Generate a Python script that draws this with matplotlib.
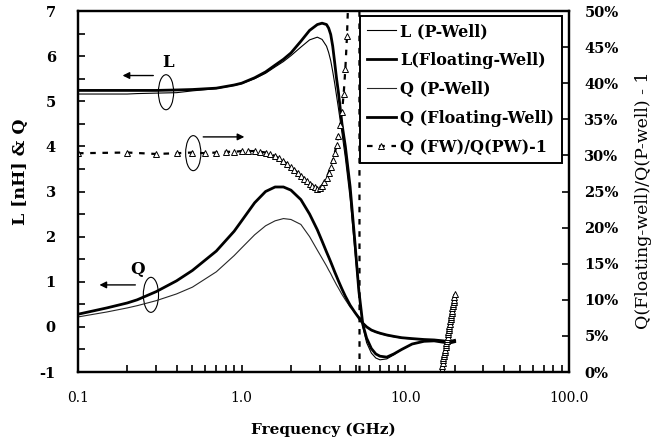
import matplotlib
matplotlib.use('Agg')
import matplotlib.pyplot as plt
from matplotlib.patches import Ellipse
from matplotlib.ticker import FixedLocator, FuncFormatter, PercentFormatter, MultipleLocator, LogLocator

plt.rcParams['font.family'] = ['DejaVu Serif']
plt.rcParams['axes.unicode_minus'] = False

# frequency grid (GHz) for the L and Q curves
curve_freq = [0.1, 0.15, 0.2, 0.23, 0.3, 0.4, 0.5, 0.7, 0.9, 1.0, 1.2, 1.4, 1.6, 1.8, 2.0,
              2.3, 2.6, 2.9, 3.1, 3.3, 3.4, 3.5, 3.6, 3.7, 3.8, 3.9, 4.1, 4.3, 4.6, 4.9, 5.2,
              5.5, 5.8, 6.2, 6.6, 7.0, 7.7, 8.5, 9.5, 11, 13, 15, 17, 18.5, 20]

L_pw = [5.16, 5.16, 5.16, 5.17, 5.18, 5.19, 5.23, 5.28, 5.35, 5.39, 5.50, 5.62, 5.76, 5.88, 6.01,
        6.20, 6.36, 6.42, 6.37, 6.22, 6.08, 5.90, 5.66, 5.40, 5.12, 4.85, 4.30, 3.75, 2.85, 1.75,
        0.75, 0.00, -0.35, -0.58, -0.69, -0.73, -0.71, -0.62, -0.50, -0.38, -0.32, -0.31, -0.34,
        -0.36, -0.33]
L_fw = [5.24, 5.24, 5.24, 5.24, 5.24, 5.25, 5.26, 5.29, 5.36, 5.40, 5.52, 5.65, 5.80, 5.93, 6.07,
        6.33, 6.57, 6.70, 6.73, 6.70, 6.62, 6.48, 6.22, 5.86, 5.50, 5.20, 4.50, 4.00, 3.10, 1.95,
        0.80, 0.05, -0.25, -0.48, -0.60, -0.65, -0.67, -0.60, -0.50, -0.38, -0.32, -0.31, -0.34,
        -0.36, -0.33]
Q_pw = [0.22, 0.33, 0.42, 0.47, 0.58, 0.73, 0.88, 1.22, 1.58, 1.75, 2.04, 2.24, 2.35, 2.40, 2.38,
        2.27, 2.00, 1.70, 1.52, 1.35, 1.26, 1.18, 1.09, 1.01, 0.93, 0.86, 0.72, 0.60, 0.44, 0.33,
        0.22, 0.10, 0.00, -0.08, -0.12, -0.15, -0.19, -0.22, -0.25, -0.27, -0.29, -0.30, -0.32,
        -0.34, -0.31]
Q_fw = [0.28, 0.42, 0.53, 0.60, 0.78, 1.02, 1.25, 1.68, 2.12, 2.35, 2.75, 3.00, 3.10, 3.10, 3.03,
        2.82, 2.50, 2.15, 1.90, 1.66, 1.55, 1.44, 1.33, 1.22, 1.12, 1.02, 0.84, 0.68, 0.48, 0.33,
        0.20, 0.08, 0.00, -0.07, -0.11, -0.14, -0.18, -0.21, -0.24, -0.26, -0.28, -0.29, -0.31,
        -0.33, -0.30]

# Q(FW)/Q(PW)-1 in percent, 0.1 GHz sweep (values out of range are clipped)
ratio_freq = [0.1, 0.2, 0.3, 0.4, 0.5, 0.6, 0.7, 0.8, 0.9,
              1.0, 1.1, 1.2, 1.3, 1.4, 1.5, 1.6, 1.7, 1.8, 1.9,
              2.0, 2.1, 2.2, 2.3, 2.4, 2.5, 2.6, 2.7, 2.8, 2.9,
              3.0, 3.1, 3.2, 3.3, 3.4, 3.5, 3.6, 3.7, 3.8, 3.9,
              4.0, 4.1, 4.2, 4.3, 4.4, 4.5, 5.2, 5.3,
              16.5, 16.6, 16.7, 16.8, 16.9, 17.0, 17.1, 17.2, 17.3, 17.4,
              17.5, 17.6, 17.7, 17.8, 17.9, 18.0, 18.1, 18.2, 18.3, 18.4,
              18.5, 18.6, 18.7, 18.8, 18.9, 19.0, 19.1, 19.2, 19.3, 19.4,
              19.5, 19.6, 19.7, 19.8, 19.9, 20.0]
ratio_pct = [30.3, 30.4, 30.2, 30.3, 30.4, 30.3, 30.4, 30.5, 30.5,
             30.6, 30.6, 30.6, 30.5, 30.4, 30.2, 29.9, 29.6, 29.2, 28.8,
             28.4, 28.0, 27.6, 27.2, 26.8, 26.4, 26.1, 25.8, 25.6, 25.4,
             25.5, 25.8, 26.3, 26.9, 27.6, 28.4, 29.3, 30.3, 31.4, 32.7,
             34.2, 36.0, 38.5, 42.0, 46.5, 53.0, 300.0, -300.0,
             -0.5, 0.0, 0.4, 0.8, 1.2, 1.6, 1.9, 2.2, 2.5, 2.8,
             3.1, 3.4, 3.7, 4.0, 4.3, 4.6, 4.9, 5.2, 5.5, 5.8,
             6.1, 6.4, 6.7, 7.0, 7.3, 7.6, 7.9, 8.2, 8.5, 8.8,
             9.1, 9.4, 9.7, 10.0, 10.4, 10.8]

x_ticks = [0.1, 1.0, 10.0, 100.0]

fig = plt.figure(figsize=(6.69, 4.43), dpi=100)
ax = fig.add_axes([78 / 669, 71 / 443, 491 / 669, 361 / 443])
ax2 = ax.twinx()

thin = 0.8
thick = 2.0
h1, = ax.plot(curve_freq, L_pw, color='k', lw=thin, label='L (P-Well)')
h2, = ax.plot(curve_freq, L_fw, color='k', lw=thick, label='L(Floating-Well)')
h3, = ax.plot(curve_freq, Q_pw, color='0.15', lw=thin, label='Q (P-Well)')
h4, = ax.plot(curve_freq, Q_fw, color='k', lw=thick, label='Q (Floating-Well)')
h5, = ax2.plot(ratio_freq, ratio_pct, color='k', lw=1.6, linestyle=(0, (2.5, 3)),
               marker='^', markersize=4.5, mfc='white', mec='k', mew=0.7,
               label='Q (FW)/Q(PW)-1')

ax.set_xscale('log')
ax.set_xlim(0.1, 100)
ax.set_ylim(-1, 7)
ax2.set_ylim(0, 50)

ax.xaxis.set_major_locator(FixedLocator(x_ticks))
ax.xaxis.set_major_formatter(FuncFormatter(lambda v, p: '%.1f' % v))
ax.xaxis.set_minor_locator(LogLocator(base=10, subs=range(2, 10)))
ax.yaxis.set_major_locator(MultipleLocator(1))
ax.yaxis.set_minor_locator(MultipleLocator(0.5))
ax2.yaxis.set_major_locator(MultipleLocator(5))
ax2.yaxis.set_major_formatter(PercentFormatter(100, decimals=0))

ax.tick_params(axis='x', which='both', direction='in', length=5, width=1.2, pad=14, labelsize=10)
ax.tick_params(axis='y', which='both', direction='in', length=5, width=1.2, pad=16, labelsize=10.5)
ax2.tick_params(axis='y', direction='in', length=5, width=1.2, pad=11, labelsize=10.5)
for lab in ax.get_yticklabels() + ax2.get_yticklabels():
    lab.set_fontweight('bold')

for a in (ax, ax2):
    for s in a.spines.values():
        s.set_linewidth(1.6)

ax.set_xlabel('Frequency (GHz)', fontsize=11, fontweight='bold', labelpad=12)
fig.text(21 / 669, 1 - 172 / 443, 'L [nH] & Q', fontsize=12.5, fontweight='bold',
         rotation=90, ha='center', va='center')
fig.text(644 / 669, 1 - 200 / 443, 'Q(Floating-well)/Q(P-well) - 1', fontsize=12.5,
         rotation=90, ha='center', va='center')

leg = ax2.legend(handles=[h1, h2, h3, h4, h5], loc='upper right',
                 bbox_to_anchor=(0.985, 0.987), borderaxespad=0, fancybox=False,
                 framealpha=1, edgecolor='k', handlelength=1.8, labelspacing=0.75,
                 handletextpad=0.3, borderpad=0.45,
                 prop={'size': 11.5, 'weight': 'bold'})
leg.get_frame().set_linewidth(1.4)


def ellipse(f, v, w=0.031, h=0.097):
    cx, cy = ax.transAxes.inverted().transform(ax.transData.transform((f, v)))
    ax.add_patch(Ellipse((cx, cy), w, h, transform=ax.transAxes, fill=False, lw=0.8, color='k'))


def arrow(f0, v0, f1, v1):
    ax.annotate('', xy=(f1, v1), xytext=(f0, v0),
                arrowprops=dict(arrowstyle='-|>', lw=1.0, color='k', mutation_scale=10))


# annotations
ellipse(0.345, 5.2)
arrow(0.30, 5.57, 0.18, 5.57)
ax.text(0.355, 5.85, 'L', fontsize=12, fontweight='bold', ha='center', va='center')

ellipse(0.506, 3.85)
arrow(0.56, 4.21, 1.08, 4.21)

ellipse(0.279, 0.71)
arrow(0.233, 0.93, 0.13, 0.93)
ax.text(0.23, 1.28, 'Q', fontsize=12, fontweight='bold', ha='center', va='center')

fig.savefig('out.png', dpi=100)
